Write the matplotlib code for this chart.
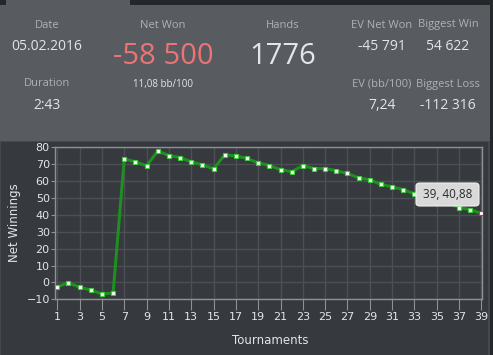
import numpy as np
import matplotlib
matplotlib.use("Agg")
import matplotlib.pyplot as plt
from matplotlib.patches import Rectangle, FancyBboxPatch

# -------- DATA --------
tournaments = list(range(1, 40))
net_winnings = [
    -2.6, -0.2, -2.9, -4.5, -6.9, -6.3, 73.1, 71.4, 69.0, 77.8,
    75.1, 73.9, 71.4, 69.6, 67.2, 75.5, 74.9, 73.4, 70.8, 69.2,
    66.8, 65.5, 69.2, 67.4, 67.4, 66.1, 64.5, 61.9, 60.8, 58.0,
    56.6, 54.9, 52.5, 50.8, 49.0, 47.2, 44.3, 43.1, 40.88,
]
x_ticks = list(range(1, 40, 2))
y_ticks = list(range(-10, 81, 10))

stat_labels = ["Date", "Net Won", "Hands", "EV Net Won", "Biggest Win",
               "Duration", "EV (bb/100)", "Biggest Loss"]
stat_values = ["05.02.2016", "-58 500", "1776", "-45 791", "54 622",
               "2:43", "7,24", "-112 316"]
bb_text = "11,08 bb/100"
tooltip = "39, 40,88"

# -------- COLOURS --------
DARK = "#25282b"
PANEL = "#585b5f"
CHART_BG = "#36393d"
GRID = "#4c4f53"
SPINE = "#8e9194"
LBL = "#aeb2b6"
VAL = "#e2e6ea"
RED = "#ec7474"
GREEN = "#1f8f1f"

W, H = 493, 355
fig = plt.figure(figsize=(W / 100, H / 100), dpi=100)
fig.patch.set_facecolor(DARK)


def px_rect(x0, y0, x1, y1, color):
    # rectangle in pixel coords, origin top-left
    fig.patches.append(Rectangle((x0 / W, 1 - y1 / H), (x1 - x0) / W, (y1 - y0) / H,
                                 transform=fig.transFigure, facecolor=color,
                                 edgecolor="none", zorder=-5))


# -------- BACKGROUND PANELS --------
px_rect(6, 0, 130, 5, PANEL)
px_rect(0, 5, 490, 141, PANEL)
px_rect(0, 141, 490, 355, "#45484c")
px_rect(1, 142, 488, 355, CHART_BG)


def txt(x, y, s, size, color):
    fig.text(x / W, 1 - y / H, s, fontsize=size, color=color, ha="center",
             va="center", family="Open Sans")


# -------- STATS HEADER --------
label_pos = [(47, 25), (163, 25), (283, 25), (382, 25), (448, 25),
             (47, 84), (382, 84), (448, 84)]
value_pos = [(47, 46), (163, 56), (283, 57), (382, 46), (448, 46),
             (47, 105), (382, 105), (448, 105)]
for (lx, ly), lab in zip(label_pos, stat_labels):
    txt(lx, ly, lab, 8, LBL)
for (vx, vy), val in zip(value_pos, stat_values):
    if val in ("-58 500", "1776"):
        txt(vx, vy, val, 21, RED if val.startswith("-") else VAL)
    else:
        txt(vx, vy, val, 10, VAL)
txt(163, 84, bb_text, 7, VAL)

# -------- CHART --------
ax = fig.add_axes([55.3 / W, 1 - 299.3 / H, 427 / W, 152 / H])
ax.set_zorder(1)
ax.set_facecolor(CHART_BG)
ax.plot(tournaments, net_winnings, color=GREEN, lw=2.2, zorder=3)
ax.plot(tournaments[:-1], net_winnings[:-1], ls="none", marker="s", ms=3.5,
        mfc="white", mec="#3ccc3c", mew=0.8, zorder=4)
ax.plot(tournaments[-1:], net_winnings[-1:], ls="none", marker="s", ms=3.5,
        mfc="white", mec="#e03030", mew=0.8, zorder=4)

ax.set_xlim(0.82, 39.08)
ax.set_ylim(-10, 79.6)
ax.set_xticks(x_ticks)
ax.set_yticks(y_ticks)
ax.grid(True, color=GRID, lw=1)
ax.set_axisbelow(True)
for sp in ax.spines.values():
    sp.set_color(SPINE)
    sp.set_linewidth(1)
ax.tick_params(axis="x", colors=SPINE, labelcolor=VAL, length=8, labelsize=8, pad=1)
ax.tick_params(axis="y", colors=SPINE, labelcolor=VAL, length=3, labelsize=8, pad=1)
ax.set_ylabel("Net Winnings", color=VAL, fontsize=8.5)
ax.yaxis.set_label_coords((14 - 55.3) / 427, (299.3 - 223) / 152)
ax.set_xlabel("Tournaments", color=VAL, fontsize=8.5)
ax.xaxis.set_label_coords((270 - 55.3) / 427, -(340 - 299.3) / 152)
ax.xaxis.label.set_va("center")
ax.yaxis.label.set_va("center")

# -------- TOOLTIP --------
tx0, ty0, tx1, ty1 = 416, 183, 479, 206
fig.patches.append(FancyBboxPatch((tx0 / W, 1 - ty1 / H), (tx1 - tx0) / W, (ty1 - ty0) / H,
                                  boxstyle="round,pad=0,rounding_size=0.008",
                                  transform=fig.transFigure, facecolor="#d9d9d9",
                                  edgecolor="#f0f0f0", lw=0.8, zorder=10))
fig.text((tx0 + tx1) / 2 / W, 1 - (ty0 + ty1) / 2 / H, tooltip, fontsize=8.5,
         color="#2a2a2a", ha="center", va="center", zorder=11, family="Open Sans")

fig.savefig("out.png", dpi=100, facecolor=fig.get_facecolor())
